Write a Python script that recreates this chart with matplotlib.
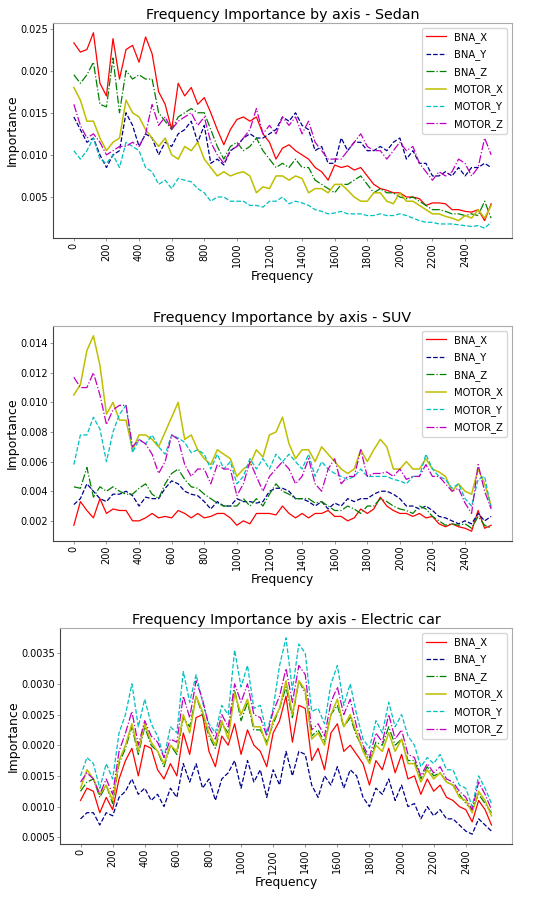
import numpy as np
from matplotlib import pyplot as plt

freq = np.arange(0, 2600, 40)
axes_names = ["BNA_X", "BNA_Y", "BNA_Z", "MOTOR_X", "MOTOR_Y", "MOTOR_Z"]
colors = ["r", "darkblue", "g", "y", "c", "m"]
styles = ["-", "--", "-.", "-", "--", "-."]
widths = [0.9, 0.9, 0.9, 1.1, 0.9, 0.9]

sedan_bna_x = [0.0233, 0.0222, 0.0225, 0.0245, 0.0185, 0.0170, 0.0238, 0.0190, 0.0225, 0.0230,
               0.0210, 0.0240, 0.0220, 0.0175, 0.0160, 0.0130, 0.0185, 0.0170, 0.0180, 0.0160,
               0.0168, 0.0150, 0.0130, 0.0112, 0.0130, 0.0142, 0.0145, 0.0140, 0.0145, 0.0125,
               0.0115, 0.0095, 0.0108, 0.0112, 0.0105, 0.0100, 0.0095, 0.0085, 0.0080, 0.0070,
               0.0088, 0.0085, 0.0087, 0.0082, 0.0085, 0.0075, 0.0065, 0.0060, 0.0058, 0.0055,
               0.0055, 0.0050, 0.0050, 0.0048, 0.0040, 0.0043, 0.0043, 0.0042, 0.0035, 0.0035,
               0.0033, 0.0032, 0.0035, 0.0022, 0.0042]
sedan_bna_y = [0.0145, 0.0130, 0.0115, 0.0120, 0.0100, 0.0085, 0.0100, 0.0105, 0.0150, 0.0135,
               0.0110, 0.0125, 0.0120, 0.0100, 0.0115, 0.0110, 0.0125, 0.0130, 0.0140, 0.0115,
               0.0135, 0.0090, 0.0095, 0.0088, 0.0105, 0.0110, 0.0120, 0.0125, 0.0120, 0.0120,
               0.0125, 0.0130, 0.0145, 0.0140, 0.0150, 0.0135, 0.0130, 0.0105, 0.0110, 0.0090,
               0.0090, 0.0120, 0.0105, 0.0115, 0.0115, 0.0105, 0.0105, 0.0110, 0.0105, 0.0115,
               0.0120, 0.0095, 0.0105, 0.0090, 0.0090, 0.0075, 0.0075, 0.0080, 0.0075, 0.0085,
               0.0075, 0.0085, 0.0085, 0.0090, 0.0085]
sedan_bna_z = [0.0195, 0.0185, 0.0195, 0.0210, 0.0160, 0.0157, 0.0215, 0.0150, 0.0200, 0.0190,
               0.0195, 0.0190, 0.0190, 0.0150, 0.0140, 0.0130, 0.0145, 0.0150, 0.0155, 0.0150,
               0.0150, 0.0130, 0.0110, 0.0095, 0.0110, 0.0115, 0.0105, 0.0110, 0.0120, 0.0105,
               0.0095, 0.0085, 0.0090, 0.0085, 0.0095, 0.0085, 0.0085, 0.0070, 0.0065, 0.0060,
               0.0055, 0.0065, 0.0065, 0.0070, 0.0075, 0.0065, 0.0055, 0.0060, 0.0055, 0.0055,
               0.0050, 0.0048, 0.0050, 0.0045, 0.0040, 0.0035, 0.0035, 0.0033, 0.0030, 0.0030,
               0.0028, 0.0030, 0.0028, 0.0045, 0.0025]
sedan_motor_x = [0.0180, 0.0165, 0.0140, 0.0140, 0.0120, 0.0105, 0.0115, 0.0120, 0.0165, 0.0150,
                 0.0145, 0.0130, 0.0120, 0.0110, 0.0120, 0.0100, 0.0095, 0.0110, 0.0105, 0.0115,
                 0.0095, 0.0085, 0.0075, 0.0080, 0.0075, 0.0078, 0.0080, 0.0075, 0.0055, 0.0062,
                 0.0060, 0.0075, 0.0075, 0.0070, 0.0075, 0.0072, 0.0055, 0.0060, 0.0060, 0.0055,
                 0.0065, 0.0065, 0.0058, 0.0050, 0.0045, 0.0045, 0.0055, 0.0055, 0.0045, 0.0042,
                 0.0055, 0.0045, 0.0045, 0.0040, 0.0035, 0.0030, 0.0030, 0.0027, 0.0025, 0.0022,
                 0.0028, 0.0025, 0.0035, 0.0025, 0.0040]
sedan_motor_y = [0.0105, 0.0095, 0.0105, 0.0120, 0.0095, 0.0090, 0.0100, 0.0085, 0.0115, 0.0110,
                 0.0105, 0.0085, 0.0080, 0.0065, 0.0070, 0.0060, 0.0072, 0.0070, 0.0068, 0.0060,
                 0.0055, 0.0045, 0.0050, 0.0050, 0.0045, 0.0045, 0.0045, 0.0040, 0.0040, 0.0038,
                 0.0045, 0.0045, 0.0050, 0.0042, 0.0045, 0.0043, 0.0040, 0.0035, 0.0033, 0.0030,
                 0.0031, 0.0033, 0.0030, 0.0030, 0.0030, 0.0028, 0.0028, 0.0030, 0.0028, 0.0028,
                 0.0030, 0.0028, 0.0025, 0.0022, 0.0020, 0.0020, 0.0018, 0.0018, 0.0018, 0.0017,
                 0.0016, 0.0015, 0.0016, 0.0013, 0.0020]
sedan_motor_z = [0.0160, 0.0135, 0.0120, 0.0125, 0.0115, 0.0100, 0.0105, 0.0110, 0.0110, 0.0115,
                 0.0110, 0.0125, 0.0160, 0.0135, 0.0145, 0.0130, 0.0140, 0.0145, 0.0150, 0.0135,
                 0.0145, 0.0115, 0.0100, 0.0090, 0.0105, 0.0110, 0.0120, 0.0130, 0.0155, 0.0125,
                 0.0135, 0.0125, 0.0145, 0.0135, 0.0145, 0.0125, 0.0140, 0.0115, 0.0105, 0.0095,
                 0.0095, 0.0095, 0.0105, 0.0115, 0.0125, 0.0110, 0.0105, 0.0105, 0.0095, 0.0105,
                 0.0115, 0.0105, 0.0110, 0.0090, 0.0080, 0.0070, 0.0080, 0.0075, 0.0080, 0.0095,
                 0.0090, 0.0075, 0.0085, 0.0120, 0.0100]

suv_bna_x = [0.0017, 0.0033, 0.0027, 0.0022, 0.0035, 0.0025, 0.0028, 0.0027, 0.0027, 0.0020,
             0.0020, 0.0022, 0.0025, 0.0022, 0.0023, 0.0022, 0.0027, 0.0025, 0.0022, 0.0025,
             0.0022, 0.0023, 0.0025, 0.0025, 0.0022, 0.0017, 0.0020, 0.0018, 0.0025, 0.0025,
             0.0025, 0.0024, 0.0030, 0.0025, 0.0022, 0.0025, 0.0022, 0.0025, 0.0025, 0.0027,
             0.0023, 0.0023, 0.0020, 0.0022, 0.0028, 0.0025, 0.0028, 0.0036, 0.0030, 0.0027,
             0.0025, 0.0025, 0.0023, 0.0025, 0.0022, 0.0023, 0.0018, 0.0016, 0.0018, 0.0016,
             0.0015, 0.0013, 0.0027, 0.0015, 0.0017]
suv_bna_y = [0.0031, 0.0035, 0.0045, 0.0040, 0.0035, 0.0033, 0.0038, 0.0038, 0.0040, 0.0037,
             0.0030, 0.0036, 0.0035, 0.0035, 0.0042, 0.0047, 0.0045, 0.0040, 0.0038, 0.0037,
             0.0033, 0.0028, 0.0033, 0.0030, 0.0030, 0.0035, 0.0033, 0.0033, 0.0032, 0.0033,
             0.0040, 0.0042, 0.0042, 0.0040, 0.0035, 0.0035, 0.0033, 0.0030, 0.0033, 0.0028,
             0.0032, 0.0030, 0.0035, 0.0033, 0.0035, 0.0035, 0.0038, 0.0040, 0.0040, 0.0038,
             0.0035, 0.0030, 0.0030, 0.0028, 0.0030, 0.0027, 0.0023, 0.0022, 0.0020, 0.0018,
             0.0020, 0.0018, 0.0025, 0.0020, 0.0023]
suv_bna_z = [0.0043, 0.0042, 0.0056, 0.0036, 0.0043, 0.0040, 0.0043, 0.0040, 0.0038, 0.0038,
             0.0042, 0.0045, 0.0038, 0.0035, 0.0045, 0.0052, 0.0055, 0.0048, 0.0043, 0.0042,
             0.0038, 0.0035, 0.0032, 0.0030, 0.0030, 0.0030, 0.0035, 0.0030, 0.0035, 0.0030,
             0.0038, 0.0045, 0.0040, 0.0038, 0.0035, 0.0035, 0.0035, 0.0032, 0.0033, 0.0030,
             0.0027, 0.0027, 0.0030, 0.0028, 0.0025, 0.0030, 0.0030, 0.0035, 0.0033, 0.0030,
             0.0028, 0.0027, 0.0025, 0.0030, 0.0028, 0.0023, 0.0020, 0.0017, 0.0018, 0.0017,
             0.0018, 0.0015, 0.0023, 0.0017, 0.0015]
suv_motor_x = [0.0105, 0.0112, 0.0135, 0.0145, 0.0125, 0.0092, 0.0100, 0.0088, 0.0088, 0.0068,
               0.0078, 0.0078, 0.0075, 0.0070, 0.0080, 0.0090, 0.0100, 0.0075, 0.0078, 0.0068,
               0.0062, 0.0058, 0.0068, 0.0065, 0.0062, 0.0050, 0.0055, 0.0058, 0.0068, 0.0063,
               0.0078, 0.0080, 0.0090, 0.0072, 0.0062, 0.0068, 0.0068, 0.0060, 0.0070, 0.0065,
               0.0060, 0.0055, 0.0052, 0.0055, 0.0068, 0.0060, 0.0068, 0.0075, 0.0070, 0.0055,
               0.0055, 0.0060, 0.0055, 0.0055, 0.0062, 0.0055, 0.0053, 0.0050, 0.0040, 0.0045,
               0.0040, 0.0038, 0.0055, 0.0045, 0.0030]
suv_motor_y = [0.0058, 0.0078, 0.0078, 0.0090, 0.0082, 0.0060, 0.0080, 0.0092, 0.0098, 0.0066,
               0.0075, 0.0072, 0.0078, 0.0070, 0.0065, 0.0078, 0.0076, 0.0073, 0.0066, 0.0068,
               0.0065, 0.0055, 0.0065, 0.0055, 0.0060, 0.0045, 0.0050, 0.0062, 0.0055, 0.0062,
               0.0055, 0.0065, 0.0060, 0.0065, 0.0060, 0.0055, 0.0065, 0.0050, 0.0060, 0.0055,
               0.0052, 0.0050, 0.0048, 0.0050, 0.0055, 0.0050, 0.0050, 0.0050, 0.0050, 0.0048,
               0.0047, 0.0045, 0.0050, 0.0050, 0.0065, 0.0055, 0.0050, 0.0048, 0.0042, 0.0045,
               0.0035, 0.0030, 0.0048, 0.0050, 0.0028]
suv_motor_z = [0.0117, 0.0110, 0.0110, 0.0120, 0.0105, 0.0085, 0.0095, 0.0098, 0.0098, 0.0070,
               0.0075, 0.0072, 0.0065, 0.0052, 0.0060, 0.0078, 0.0075, 0.0058, 0.0050, 0.0055,
               0.0055, 0.0045, 0.0058, 0.0055, 0.0055, 0.0037, 0.0045, 0.0060, 0.0050, 0.0040,
               0.0050, 0.0055, 0.0060, 0.0055, 0.0045, 0.0050, 0.0062, 0.0045, 0.0040, 0.0055,
               0.0062, 0.0045, 0.0050, 0.0050, 0.0068, 0.0050, 0.0052, 0.0052, 0.0053, 0.0050,
               0.0055, 0.0048, 0.0050, 0.0050, 0.0058, 0.0050, 0.0050, 0.0045, 0.0040, 0.0042,
               0.0032, 0.0025, 0.0058, 0.0040, 0.0028]

ev_bna_x = [0.00110, 0.00130, 0.00125, 0.00090, 0.00115, 0.00095, 0.00145, 0.00175, 0.00195, 0.00150,
            0.00200, 0.00195, 0.00160, 0.00145, 0.00170, 0.00150, 0.00220, 0.00185, 0.00245, 0.00250,
            0.00190, 0.00165, 0.00215, 0.00200, 0.00235, 0.00185, 0.00225, 0.00200, 0.00190, 0.00165,
            0.00220, 0.00240, 0.00280, 0.00205, 0.00265, 0.00260, 0.00175, 0.00195, 0.00160, 0.00220,
            0.00235, 0.00190, 0.00200, 0.00185, 0.00170, 0.00135, 0.00175, 0.00160, 0.00195, 0.00155,
            0.00185, 0.00145, 0.00150, 0.00120, 0.00145, 0.00125, 0.00135, 0.00115, 0.00110, 0.00100,
            0.00095, 0.00075, 0.00110, 0.00095, 0.00070]
ev_bna_y = [0.00080, 0.00090, 0.00090, 0.00070, 0.00090, 0.00085, 0.00115, 0.00125, 0.00145, 0.00120,
            0.00130, 0.00110, 0.00120, 0.00100, 0.00130, 0.00115, 0.00170, 0.00140, 0.00170, 0.00130,
            0.00145, 0.00110, 0.00145, 0.00155, 0.00175, 0.00130, 0.00175, 0.00140, 0.00160, 0.00115,
            0.00160, 0.00135, 0.00190, 0.00150, 0.00190, 0.00185, 0.00135, 0.00115, 0.00150, 0.00135,
            0.00165, 0.00130, 0.00160, 0.00150, 0.00115, 0.00100, 0.00130, 0.00120, 0.00145, 0.00110,
            0.00135, 0.00100, 0.00105, 0.00080, 0.00100, 0.00085, 0.00095, 0.00080, 0.00080, 0.00070,
            0.00060, 0.00055, 0.00080, 0.00070, 0.00060]
ev_bna_z = [0.00125, 0.00140, 0.00145, 0.00115, 0.00135, 0.00105, 0.00170, 0.00195, 0.00230, 0.00185,
            0.00230, 0.00200, 0.00190, 0.00165, 0.00200, 0.00185, 0.00245, 0.00230, 0.00280, 0.00250,
            0.00215, 0.00195, 0.00235, 0.00220, 0.00290, 0.00240, 0.00270, 0.00225, 0.00225, 0.00205,
            0.00235, 0.00260, 0.00295, 0.00245, 0.00305, 0.00285, 0.00215, 0.00225, 0.00205, 0.00250,
            0.00265, 0.00230, 0.00245, 0.00215, 0.00195, 0.00175, 0.00205, 0.00200, 0.00230, 0.00200,
            0.00210, 0.00175, 0.00175, 0.00145, 0.00165, 0.00150, 0.00155, 0.00140, 0.00135, 0.00120,
            0.00105, 0.00095, 0.00120, 0.00105, 0.00090]
ev_motor_x = [0.00130, 0.00160, 0.00145, 0.00120, 0.00135, 0.00110, 0.00175, 0.00200, 0.00235, 0.00190,
              0.00235, 0.00205, 0.00190, 0.00170, 0.00200, 0.00190, 0.00250, 0.00220, 0.00280, 0.00255,
              0.00220, 0.00200, 0.00240, 0.00210, 0.00285, 0.00250, 0.00275, 0.00230, 0.00230, 0.00200,
              0.00240, 0.00260, 0.00305, 0.00250, 0.00305, 0.00290, 0.00210, 0.00220, 0.00200, 0.00250,
              0.00275, 0.00230, 0.00250, 0.00220, 0.00190, 0.00170, 0.00200, 0.00190, 0.00220, 0.00190,
              0.00210, 0.00170, 0.00170, 0.00140, 0.00160, 0.00145, 0.00155, 0.00140, 0.00135, 0.00115,
              0.00110, 0.00090, 0.00125, 0.00110, 0.00085]
ev_motor_y = [0.00150, 0.00180, 0.00170, 0.00130, 0.00170, 0.00145, 0.00220, 0.00250, 0.00300, 0.00230,
              0.00275, 0.00235, 0.00215, 0.00180, 0.00230, 0.00220, 0.00320, 0.00270, 0.00315, 0.00270,
              0.00235, 0.00220, 0.00265, 0.00250, 0.00355, 0.00295, 0.00330, 0.00260, 0.00265, 0.00220,
              0.00260, 0.00330, 0.00375, 0.00290, 0.00365, 0.00350, 0.00255, 0.00260, 0.00235, 0.00300,
              0.00330, 0.00265, 0.00300, 0.00250, 0.00210, 0.00195, 0.00240, 0.00220, 0.00270, 0.00230,
              0.00250, 0.00215, 0.00200, 0.00165, 0.00180, 0.00170, 0.00185, 0.00160, 0.00160, 0.00135,
              0.00130, 0.00100, 0.00150, 0.00130, 0.00105]
ev_motor_z = [0.00140, 0.00155, 0.00145, 0.00120, 0.00145, 0.00120, 0.00190, 0.00220, 0.00255, 0.00200,
              0.00240, 0.00215, 0.00205, 0.00180, 0.00210, 0.00205, 0.00280, 0.00245, 0.00305, 0.00275,
              0.00230, 0.00210, 0.00250, 0.00230, 0.00300, 0.00270, 0.00300, 0.00250, 0.00245, 0.00215,
              0.00255, 0.00280, 0.00325, 0.00270, 0.00330, 0.00315, 0.00225, 0.00235, 0.00215, 0.00270,
              0.00295, 0.00250, 0.00275, 0.00230, 0.00200, 0.00180, 0.00220, 0.00205, 0.00250, 0.00210,
              0.00225, 0.00185, 0.00180, 0.00150, 0.00170, 0.00155, 0.00165, 0.00145, 0.00140, 0.00125,
              0.00115, 0.00095, 0.00140, 0.00120, 0.00095]

cars = [
    ("Sedan", [sedan_bna_x, sedan_bna_y, sedan_bna_z, sedan_motor_x, sedan_motor_y, sedan_motor_z]),
    ("SUV", [suv_bna_x, suv_bna_y, suv_bna_z, suv_motor_x, suv_motor_y, suv_motor_z]),
    ("Electric car", [ev_bna_x, ev_bna_y, ev_bna_z, ev_motor_x, ev_motor_y, ev_motor_z]),
]
positions = [
    [0.0985, 0.7356, 0.8532, 0.2389],
    [0.0985, 0.3989, 0.8532, 0.2389],
    [0.1115, 0.0622, 0.8402, 0.2400],
]

fig = plt.figure(figsize=(5.38, 9.0), dpi=100)
for (car, series), pos in zip(cars, positions):
    ax = fig.add_axes(pos)
    for name, vals, c, ls, lw in zip(axes_names, series, colors, styles, widths):
        ax.plot(freq, vals, color=c, linestyle=ls, linewidth=lw, label=name)
    ax.set_title("Frequency Importance by axis - " + car, fontsize=10.3, pad=3)
    ax.set_xlabel("Frequency", fontsize=8.8, labelpad=2)
    ax.set_ylabel("Importance", fontsize=9, labelpad=1)
    ax.set_xticks(np.arange(0, 2600, 200))
    ax.tick_params(axis="x", labelrotation=90, labelsize=7)
    ax.tick_params(axis="y", labelsize=7)
    ax.tick_params(length=2, width=0.6, color="#888888", pad=1.5)
    for side in ["top", "right"]:
        ax.spines[side].set_color("#aaaaaa")
    for side in ["left", "bottom"]:
        ax.spines[side].set_color("#444444")
    ax.legend(loc="upper right", fontsize=7.2, labelspacing=0.65)

plt.savefig("out.png", dpi=100)
